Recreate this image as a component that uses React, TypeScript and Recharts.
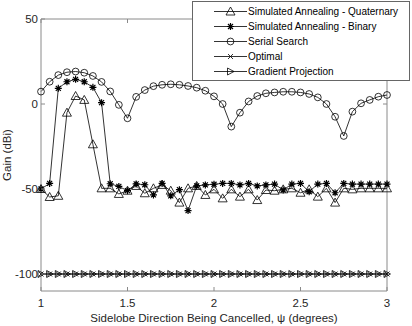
import React from 'react'
import { LineChart, Line, XAxis, YAxis, Label, ReferenceLine } from 'recharts'

// sidelobe direction (degrees)
const psi = [
  1, 1.05, 1.1, 1.15, 1.2, 1.25, 1.3, 1.35, 1.4, 1.45, 1.5, 1.55, 1.6, 1.65, 1.7, 1.75, 1.8, 1.85, 1.9, 1.95,
  2, 2.05, 2.1, 2.15, 2.2, 2.25, 2.3, 2.35, 2.4, 2.45, 2.5, 2.55, 2.6, 2.65, 2.7, 2.75, 2.8, 2.85, 2.9, 2.95, 3,
]

const quaternary = [
  -50, -54.7, -54, -5.1, 4.7, 2.4, -23.7, -49.6, -49.6, -52.9, -51, -48.2, -52.5, -49.6, -47.6, -51, -58, -49.6, -48.2, -53.5,
  -50.2, -55.5, -50.2, -54.5, -50.2, -56.5, -50.6, -51, -50.2, -49.6, -52.2, -50.2, -54.5, -49.6, -58, -49.6, -50.2, -49.6, -49.6, -49.6, -49.6,
]

const binary = [
  -50, -46.7, 9.2, 13.1, 14.5, 13.1, 9.8, 0.8, -46.9, -48.5, -51, -47, -47.5, -53.5, -46.7, -54, -50.4, -62.7, -48.2, -47.6,
  -47.2, -46.7, -46.7, -47.6, -46.7, -48.2, -47.6, -47.1, -50.6, -47.1, -46.7, -51.6, -47.1, -46.7, -52.2, -46.7, -47.1, -47.1, -47.1, -47.1, -47.1,
]

const serial = [
  7.3, 13.1, 17, 18.7, 19.1, 18.4, 16.5, 13, 7.4, -0.5, -8.4, 4.2, 8.2, 10.5, 11.3, 11.6, 11.3, 10.6, 9.6, 7.8,
  4.5, 0, -13.3, -5.1, 1.5, 4.7, 6.3, 6.8, 7.2, 7.2, 6.8, 5.9, 3.9, 0, -7.5, -18.8, -4.5, 0.4, 2.4, 4.3, 5.3,
]

const optimal = [
  -100, -100, -100, -100, -100, -100, -100, -100, -100, -100, -100, -100, -100, -100, -100, -100, -100, -100, -100, -100,
  -100, -100, -100, -100, -100, -100, -100, -100, -100, -100, -100, -100, -100, -100, -100, -100, -100, -100, -100, -100, -100,
]

const gradient = [
  -100, -100, -100, -100, -100, -100, -100, -100, -100, -100, -100, -100, -100, -100, -100, -100, -100, -100, -100, -100,
  -100, -100, -100, -100, -100, -100, -100, -100, -100, -100, -100, -100, -100, -100, -100, -100, -100, -100, -100, -100, -100,
]

const xTicks = [1, 1.5, 2, 2.5, 3]
const yTicks = [-100, -50, 0, 50]
const xDomain = [1, 3]
const yDomain = [-110, 50]

const data = psi.map((x, i) => ({
  x,
  quaternary: quaternary[i],
  binary: binary[i],
  serial: serial[i],
  optimal: optimal[i],
  gradient: gradient[i],
}))

const series = [
  { key: 'quaternary', name: 'Simulated Annealing - Quaternary', marker: 'triUp' },
  { key: 'binary', name: 'Simulated Annealing - Binary', marker: 'star' },
  { key: 'serial', name: 'Serial Search', marker: 'circle' },
  { key: 'optimal', name: 'Optimal', marker: 'x' },
  { key: 'gradient', name: 'Gradient Projection', marker: 'triRight' },
]

const FONT = '"Liberation Sans", Arial, sans-serif'
const AXIS = '#8a8a8a'
const TEXT = '#262626'

// plot box size in px, used to turn a 4px inward tick into data units
const PLOT_W = 346
const PLOT_H = 272
const xTickLen = (4 * (xDomain[1] - xDomain[0])) / PLOT_W
const yTickLen = (4 * (yDomain[1] - yDomain[0])) / PLOT_H

function Marker({ kind, cx, cy }: { kind: string; cx: number; cy: number }) {
  const s = { fill: 'none', stroke: '#000', strokeWidth: 0.8 }
  if (kind === 'triUp') return <path d={`M${cx},${cy - 4.5}L${cx + 4.5},${cy + 3.5}L${cx - 4.5},${cy + 3.5}Z`} {...s} />
  if (kind === 'circle') return <circle cx={cx} cy={cy} r={3.4} {...s} />
  if (kind === 'triRight') return <path d={`M${cx + 3.5},${cy}L${cx - 3},${cy - 3.5}L${cx - 3},${cy + 3.5}Z`} {...s} />
  if (kind === 'x') return <path d={`M${cx - 2.5},${cy - 2.5}L${cx + 2.5},${cy + 2.5}M${cx - 2.5},${cy + 2.5}L${cx + 2.5},${cy - 2.5}`} {...s} />
  // star
  return (
    <path
      d={`M${cx - 3.5},${cy}L${cx + 3.5},${cy}M${cx},${cy - 3.5}L${cx},${cy + 3.5}M${cx - 2.5},${cy - 2.5}L${cx + 2.5},${cy + 2.5}M${cx - 2.5},${cy + 2.5}L${cx + 2.5},${cy - 2.5}`}
      {...s}
      strokeWidth={1.2}
    />
  )
}

const BottomTick = (p: any) => (
  <g>
    <line x1={p.x} x2={p.x} y1={p.y} y2={p.y - 4} stroke={AXIS} />
    <text x={p.x} y={p.y + 16} textAnchor="middle" fontSize={11.5} fill={TEXT} fontFamily={FONT}>
      {p.payload.value}
    </text>
  </g>
)

const LeftTick = (p: any) => (
  <g>
    <line x1={p.x} x2={p.x + 4} y1={p.y} y2={p.y} stroke={AXIS} />
    <text x={p.x - 3} y={p.y + 4} textAnchor="end" fontSize={11.5} fill={TEXT} fontFamily={FONT}>
      {p.payload.value}
    </text>
  </g>
)

function LegendBox() {
  return (
    <div
      style={{
        position: 'absolute',
        left: 192,
        top: 1,
        width: 216,
        height: 76,
        background: '#fff',
        border: '1px solid #666',
        fontFamily: FONT,
        fontSize: 10,
        color: '#000',
        paddingTop: 2,
        boxSizing: 'content-box',
      }}
    >
      {series.map((s) => (
        <div key={s.key} style={{ display: 'flex', alignItems: 'center', height: 15 }}>
          <svg width={55} height={15} style={{ flex: 'none' }}>
            <line x1={21} x2={54} y1={7.5} y2={7.5} stroke="#000" strokeWidth={0.8} />
            <Marker kind={s.marker} cx={37.5} cy={7.5} />
          </svg>
          <span style={{ whiteSpace: 'nowrap' }}>{s.name}</span>
        </div>
      ))}
    </div>
  )
}

export default function App() {
  return (
    <div style={{ position: 'absolute', left: 0, top: 0, width: 412, height: 326, background: '#fff' }}>
      <LineChart width={412} height={326} data={data} margin={{ top: 19, right: 25, bottom: 0, left: 0 }}>
        <XAxis
          dataKey="x"
          type="number"
          domain={xDomain}
          ticks={xTicks}
          interval={0}
          height={35}
          tickSize={0}
          tickMargin={0}
          tick={BottomTick}
          stroke={AXIS}
        >
          <Label
            content={(p: any) => (
              <text
                x={p.viewBox.x + p.viewBox.width / 2}
                y={p.viewBox.y + 31}
                textAnchor="middle"
                fontSize={11.5}
                fill={TEXT}
                fontFamily={FONT}
              >
                Sidelobe Direction Being Cancelled, ψ (degrees)
              </text>
            )}
          />
        </XAxis>
        <YAxis
          type="number"
          domain={yDomain}
          ticks={yTicks}
          interval={0}
          width={41}
          tickSize={0}
          tickMargin={0}
          tick={LeftTick}
          stroke={AXIS}
        >
          <Label
            content={(p: any) => {
              const cx = p.viewBox.x + 11
              const cy = p.viewBox.y + p.viewBox.height / 2
              return (
                <text
                  x={cx}
                  y={cy}
                  transform={`rotate(-90 ${cx} ${cy})`}
                  textAnchor="middle"
                  fontSize={11.5}
                  fill={TEXT}
                  fontFamily={FONT}
                >
                  Gain (dBi)
                </text>
              )
            }}
          />
        </YAxis>
        {/* box: top and right edges with inward ticks */}
        <ReferenceLine y={yDomain[1]} stroke={AXIS} strokeWidth={1} />
        <ReferenceLine x={xDomain[1]} stroke={AXIS} strokeWidth={1} />
        {xTicks.map((t) => (
          <ReferenceLine
            key={`tx${t}`}
            segment={[{ x: t, y: yDomain[1] }, { x: t, y: yDomain[1] - yTickLen }]}
            stroke={AXIS}
          />
        ))}
        {yTicks.map((t) => (
          <ReferenceLine
            key={`ty${t}`}
            segment={[{ x: xDomain[1], y: t }, { x: xDomain[1] - xTickLen, y: t }]}
            stroke={AXIS}
          />
        ))}
        {series.map((s) => (
          <Line
            key={s.key}
            dataKey={s.key}
            name={s.name}
            stroke="#000"
            strokeWidth={0.8}
            isAnimationActive={false}
            dot={(p: any) => <Marker key={`${s.key}-${p.index}`} kind={s.marker} cx={p.cx} cy={p.cy} />}
            activeDot={false}
          />
        ))}
      </LineChart>
      <LegendBox />
    </div>
  )
}
